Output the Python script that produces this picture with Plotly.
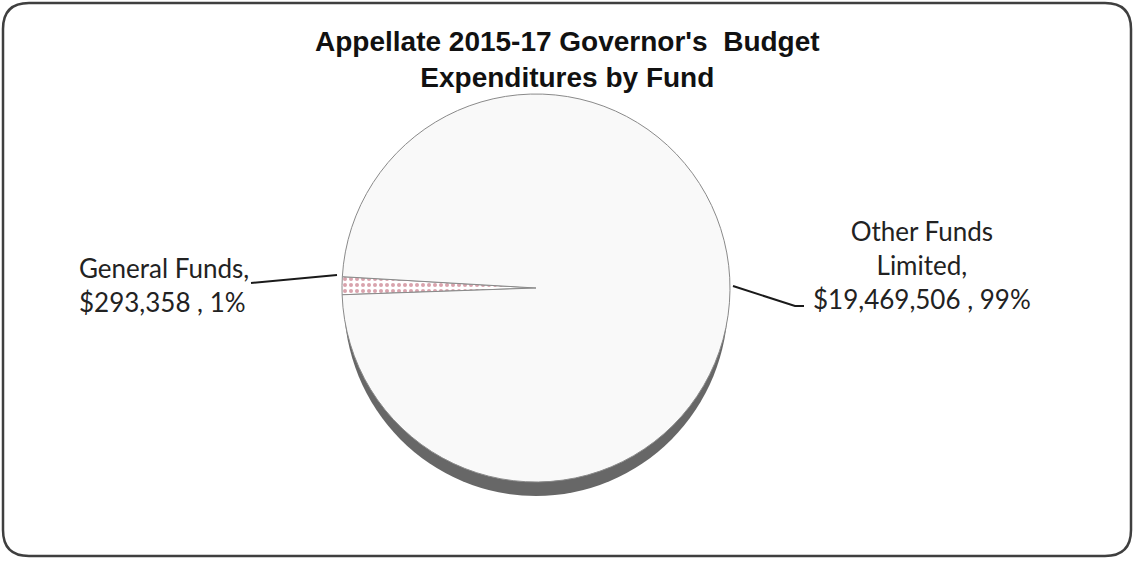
import plotly.graph_objects as go

# Expenditures by fund, 2015-17 Governor's Budget (Appellate)
funds = ["General Funds", "Other Funds<br>Limited"]
amounts = [293358, 19469506]
slice_colors = ["#fbeef1", "#f9f9f9"]

W, H = 1135, 561


def px_x(x):
    return x / W


def px_y(y):
    return 1 - y / H


total = sum(amounts)
label_text = [
    f"{name},<br>${val:,} , {round(val / total * 100)}%"
    for name, val in zip(funds, amounts)
]

fig = go.Figure()

fig.add_trace(go.Pie(
    labels=funds,
    values=amounts,
    sort=False,
    direction="clockwise",
    rotation=268,
    textinfo="none",
    hoverinfo="label+value+percent",
    showlegend=False,
    marker=dict(
        colors=slice_colors,
        line=dict(color="#8a8a8a", width=1),
        pattern=dict(shape=[".", ""], fgcolor="#d9a3ad", size=6, solidity=0.35),
    ),
    domain=dict(x=[px_x(342), px_x(730)], y=[px_y(482), px_y(94)]),
))

shapes = []
# depth shadow below the pie face
shapes.append(dict(
    type="circle", xref="paper", yref="paper", layer="below",
    x0=px_x(344), x1=px_x(728), y0=px_y(496), y1=px_y(108),
    fillcolor="#676767", line=dict(width=0),
))

# rounded chart frame
r = 26
x0, y0, x1, y1 = 3, 3, 1131, 556
frame = (
    f"M {px_x(x0 + r)},{px_y(y0)} L {px_x(x1 - r)},{px_y(y0)} "
    f"Q {px_x(x1)},{px_y(y0)} {px_x(x1)},{px_y(y0 + r)} "
    f"L {px_x(x1)},{px_y(y1 - r)} Q {px_x(x1)},{px_y(y1)} {px_x(x1 - r)},{px_y(y1)} "
    f"L {px_x(x0 + r)},{px_y(y1)} Q {px_x(x0)},{px_y(y1)} {px_x(x0)},{px_y(y1 - r)} "
    f"L {px_x(x0)},{px_y(y0 + r)} Q {px_x(x0)},{px_y(y0)} {px_x(x0 + r)},{px_y(y0)} Z"
)
shapes.append(dict(type="path", xref="paper", yref="paper", path=frame,
                   line=dict(color="#3f3f3f", width=2.5), layer="above"))

# leader lines
shapes.append(dict(type="path", xref="paper", yref="paper",
                   path=f"M {px_x(251)},{px_y(283)} L {px_x(337)},{px_y(275)}",
                   line=dict(color="#1a1a1a", width=2)))
shapes.append(dict(type="path", xref="paper", yref="paper",
                   path=f"M {px_x(733)},{px_y(286)} L {px_x(795)},{px_y(306)} L {px_x(804)},{px_y(306)}",
                   line=dict(color="#1a1a1a", width=2)))

label_font = dict(family="Lato, Noto Sans, sans-serif", size=26, color="#222222")

annotations = [
    dict(text="<b>Appellate 2015-17 Governor's&nbsp; Budget<br>Expenditures by Fund</b>",
         x=0.5, y=px_y(60), xref="paper", yref="paper", xanchor="center", yanchor="middle",
         showarrow=False, align="center",
         font=dict(family="Liberation Sans, Arial, sans-serif", size=28, color="#111111")),
    dict(text=label_text[0], x=px_x(77), y=px_y(285), xref="paper", yref="paper",
         xanchor="left", yanchor="middle", showarrow=False, align="left", font=label_font),
    dict(text=label_text[1], x=px_x(922), y=px_y(265), xref="paper", yref="paper",
         xanchor="center", yanchor="middle", showarrow=False, align="center", font=label_font),
]

fig.update_layout(
    width=W, height=H,
    margin=dict(l=0, r=0, t=0, b=0),
    paper_bgcolor="white",
    plot_bgcolor="white",
    shapes=shapes,
    annotations=annotations,
)

fig.write_html("out.html")
